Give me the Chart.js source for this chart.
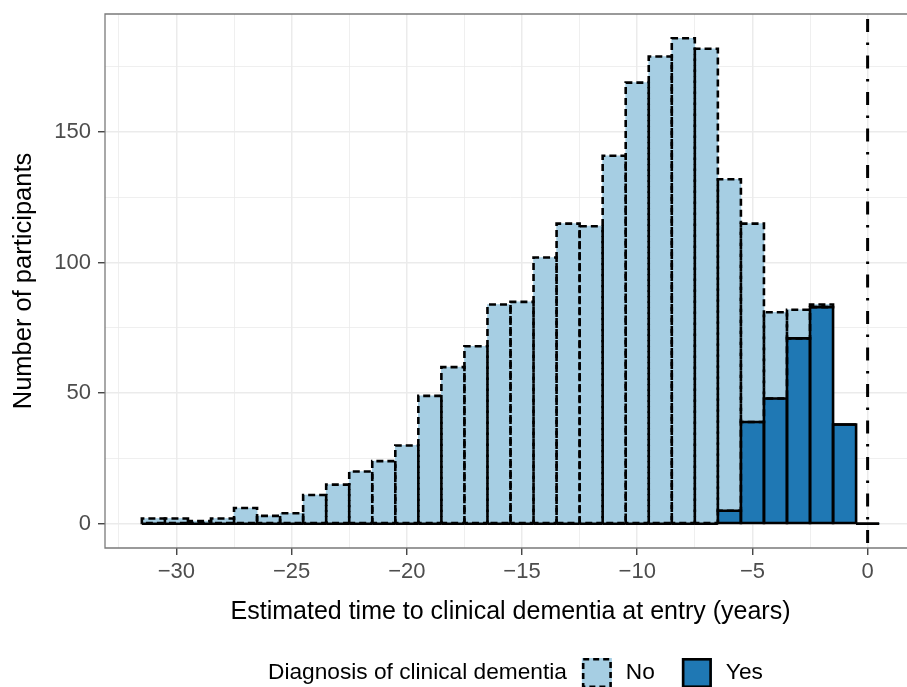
<!DOCTYPE html>
<html><head><meta charset="utf-8">
<script src="https://cdn.jsdelivr.net/npm/chart.js@4"></script>
<style>html,body{margin:0;padding:0;background:#fff;overflow:hidden;width:907px;height:687px}#wrap{width:907px;height:687px;overflow:hidden}</style>
</head><body><div id="wrap"><canvas id="c" width="916" height="687"></canvas></div>
<script>
// Bin centres (years), 1-year bins
const binCenters = [-31,-30,-29,-28,-27,-26,-25,-24,-23,-22,-21,-20,-19,-18,-17,-16,-15,-14,-13,-12,-11,-10,-9,-8,-7,-6,-5,-4,-3,-2,-1,0];
const noCounts   = [2,2,1,2,6,3,4,11,15,20,24,30,49,60,68,84,85,102,115,114,141,169,179,186,182,127,76,33,11,1,0,0];
const yesCounts  = [0,0,0,0,0,0,0,0,0,0,0,0,0,0,0,0,0,0,0,0,0,0,0,0,0,5,39,48,71,83,38,0];
const xTickLabels = [-30,-25,-20,-15,-10,-5,0];
const xMinorGrid = [-32.5,-27.5,-22.5,-17.5,-12.5,-7.5,-2.5];
const yTickLabels = [0,50,100,150];
const yMinorGrid = [25,75,125,175];
const seriesNames = ['No','Yes'];
const legendTitle = 'Diagnosis of clinical dementia';
const xTitle = 'Estimated time to clinical dementia at entry (years)';
const yTitle = 'Number of participants';

const FONT = '"Liberation Sans", Arial, Helvetica, sans-serif';
const COL_NO = '#A6CEE3', COL_YES = '#1F78B4';
const isMajorX = v => xTickLabels.some(t => Math.abs(t - v) < 1e-6);
const isMajorY = v => yTickLabels.some(t => Math.abs(t - v) < 1e-6);
const tv = c => (c && c.tick) ? c.tick.value : NaN;
const fmt = v => (v < 0 ? '\u2212' + Math.abs(v) : String(v));

const outlinePlugin = {
  id: 'outlines',
  afterDatasetsDraw(chart) {
    const ctx = chart.ctx, a = chart.chartArea;
    ctx.save();
    ctx.beginPath(); ctx.rect(a.left, a.top, a.right - a.left, a.bottom - a.top); ctx.clip();
    const drawOutlines = (idx, dash, lw) => {
      const meta = chart.getDatasetMeta(idx);
      ctx.setLineDash(dash); ctx.lineWidth = lw; ctx.strokeStyle = '#000';
      meta.data.forEach(el => {
        const p = el.getProps(['x','y','base','width'], true);
        const l = p.x - p.width/2, r = p.x + p.width/2;
        const t = Math.min(p.y, p.base), b = Math.max(p.y, p.base);
        ctx.beginPath();
        ctx.moveTo(l, b); ctx.lineTo(l, t); ctx.lineTo(r, t); ctx.lineTo(r, b); ctx.closePath();
        ctx.stroke();
      });
    };
    drawOutlines(1, [7,4], 2.6);
    drawOutlines(0, [], 2.6);
    const xs = chart.scales.x;
    const px = xs.getPixelForValue(0);
    ctx.setLineDash([13,10.5,2.5,10.5]); ctx.lineDashOffset = -5;
    ctx.lineWidth = 3; ctx.strokeStyle = '#000';
    ctx.beginPath(); ctx.moveTo(px, a.top); ctx.lineTo(px, a.bottom); ctx.stroke();
    ctx.restore();
  },
  afterDraw(chart) {
    const ctx = chart.ctx, a = chart.chartArea;
    ctx.save();
    ctx.strokeStyle = '#7a7a7a'; ctx.lineWidth = 1.3; ctx.setLineDash([]);
    ctx.beginPath();
    ctx.moveTo(a.right + 10, a.top); ctx.lineTo(a.left, a.top); ctx.lineTo(a.left, a.bottom); ctx.lineTo(a.right + 10, a.bottom);
    ctx.stroke();
    // legend
    const cy = 673, s = 30;
    ctx.font = '22.7px ' + FONT; ctx.fillStyle = '#000'; ctx.textBaseline = 'middle'; ctx.textAlign = 'left';
    let x = 268;
    ctx.fillText(legendTitle, x, cy);
    x += ctx.measureText(legendTitle).width + 15;
    const keys = [{fill: COL_NO, dash: [6,4]}, {fill: COL_YES, dash: []}];
    seriesNames.forEach((name, i) => {
      const k = keys[i];
      ctx.fillStyle = k.fill; ctx.fillRect(x, cy - s/2, s, s);
      ctx.setLineDash(k.dash); ctx.lineWidth = 2.6; ctx.strokeStyle = '#000';
      ctx.strokeRect(x + 1.3, cy - s/2 + 1.3, s - 2.6, s - 2.6);
      ctx.setLineDash([]);
      x += s + 14;
      ctx.fillStyle = '#000'; ctx.fillText(name, x, cy);
      x += ctx.measureText(name).width + 27;
    });
    ctx.restore();
  }
};

new Chart(document.getElementById('c'), {
  type: 'bar',
  data: {
    datasets: [
      { label: seriesNames[1], data: binCenters.map((c, i) => ({x: c, y: yesCounts[i]})), backgroundColor: COL_YES, borderWidth: 0 },
      { label: seriesNames[0], data: binCenters.map((c, i) => ({x: c, y: noCounts[i]})), backgroundColor: COL_NO, borderWidth: 0 }
    ]
  },
  options: {
    responsive: false, animation: false, devicePixelRatio: 1,
    barPercentage: 1, categoryPercentage: 1,
    layout: { padding: { top: 14, left: 0, right: 0, bottom: 54 } },
    plugins: { legend: { display: false }, tooltip: { enabled: false } },
    scales: {
      x: {
        type: 'linear', stacked: true, min: -33.1, max: 2.1, offset: false,
        afterBuildTicks: s => { s.ticks = xTickLabels.concat(xMinorGrid).sort((a,b)=>a-b).map(v => ({value: v})); },
        afterFit: s => { s.height = 85; s.paddingLeft = 0; s.paddingRight = 0; },
        border: { display: false },
        grid: {
          offset: false,
          color: '#EBEBEB',
          lineWidth: c => isMajorX(tv(c)) ? 1.5 : 0.8,
          tickColor: c => isMajorX(tv(c)) ? '#333333' : 'rgba(0,0,0,0)',
          tickLength: 7, tickWidth: 1.3
        },
        ticks: { autoSkip: false, maxRotation: 0, padding: 4, color: '#4D4D4D', font: { family: FONT, size: 22 },
          callback: v => isMajorX(v) ? fmt(v) : '' },
        title: { display: true, text: xTitle, color: '#000', font: { family: FONT, size: 25 }, padding: { top: 0, bottom: 6 } }
      },
      y: {
        type: 'linear', stacked: true, min: -9.3, max: 195.3,
        afterBuildTicks: s => { s.ticks = yTickLabels.concat(yMinorGrid).sort((a,b)=>a-b).map(v => ({value: v})); },
        afterFit: s => { s.width = 105; s.paddingTop = 0; s.paddingBottom = 0; },
        border: { display: false },
        grid: {
          color: '#EBEBEB',
          lineWidth: c => isMajorY(tv(c)) ? 1.5 : 0.8,
          tickColor: c => isMajorY(tv(c)) ? '#333333' : 'rgba(0,0,0,0)',
          tickLength: 7, tickWidth: 1.3
        },
        ticks: { autoSkip: false, padding: 7, color: '#4D4D4D', font: { family: FONT, size: 22 },
          callback: v => isMajorY(v) ? fmt(v) : '' },
        title: { display: true, text: yTitle, color: '#000', font: { family: FONT, size: 25.5 }, padding: { top: 9, bottom: 0 } }
      }
    }
  },
  plugins: [outlinePlugin]
});
</script>
</body></html>
